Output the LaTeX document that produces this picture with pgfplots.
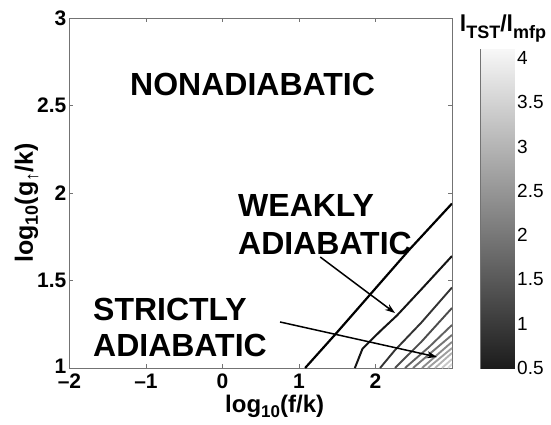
\documentclass[border=0pt]{standalone}
\usepackage{fontspec}
\setmainfont{Liberation Sans}
\usepackage{pgfplots}
\pgfplotsset{compat=1.18}
\usetikzlibrary{arrows.meta}
\newcommand{\tfont}{\fontsize{32}{32}\selectfont\bfseries}
\begin{document}
\begin{tikzpicture}[x=1pt,y=1pt]
\useasboundingbox (-69.5,-56) rectangle (481.5,368);
\begin{axis}[at={(0,0)}, anchor=south west, scale only axis,
  width=382.5pt, height=350pt,
  xmin=-2, xmax=3, ymin=1, ymax=3,
  xtick={-2,-1,0,1,2}, xticklabels={\textendash2,\textendash1,0,1,2},
  ytick={1,1.5,2,2.5,3}, yticklabels={\raisebox{4pt}{1},1.5,2,2.5,3},
  tick align=inside, major tick length=4pt,
  tick style={black!55, line width=0.6pt},
  axis line style={black!55, line width=0.8pt},
  tick label style={font=\fontsize{21}{21}\selectfont\bfseries, inner sep=0pt},
  xticklabel style={yshift=-6pt},
  yticklabel style={xshift=-3pt},
  clip=true,
]
\addplot[black, line width=2.2pt] coordinates {(1.08,1) (1.49,1.20) (1.75,1.33) (1.93,1.42) (2.45,1.68) (3.0,1.94)};
\addplot[black!92, line width=2pt] coordinates {(1.73,1) (1.83,1.11) (2.06,1.21) (2.28,1.30) (2.6,1.45) (3.0,1.64)};
\addplot[black!80, line width=1.9pt] coordinates {(2.06,1) (2.25,1.1) (2.6,1.26) (3.0,1.46)};
\addplot[black!70, line width=1.9pt] coordinates {(2.255,1) (2.6,1.15) (3.0,1.343)};
\addplot[black!62, line width=1.9pt] coordinates {(2.386,1) (2.7,1.12) (3.0,1.246)};
\addplot[black!54, line width=1.9pt] coordinates {(2.49,1) (3.0,1.189)};
\addplot[black!46, line width=1.9pt] coordinates {(2.608,1) (3.0,1.149)};
\addplot[black!38, line width=1.9pt] coordinates {(2.686,1) (3.0,1.114)};
\addplot[black!30, line width=1.9pt] coordinates {(2.778,1) (3.0,1.086)};
\addplot[black!22, line width=1.9pt] coordinates {(2.869,1) (3.0,1.051)};
\addplot[black!15, line width=1.9pt] coordinates {(2.948,1) (3.0,1.023)};
% arrows
\addplot[black, line width=1.5pt, -{Stealth[length=10pt,width=7pt]}] coordinates {(1.278,1.634) (2.255,1.314)};
\addplot[black, line width=1.5pt, -{Stealth[length=10pt,width=7pt]}] coordinates {(0.752,1.263) (2.804,1.063)};
% labels
\node[anchor=base west, inner sep=0pt, font=\tfont] at (axis cs:-1.209,2.56) {NONADIABATIC};
\node[anchor=base west, inner sep=0pt, font=\tfont] at (axis cs:0.2026,1.863) {WEAKLY};
\node[anchor=base west, inner sep=0pt, font=\tfont] at (axis cs:0.2026,1.646) {ADIABATIC};
\node[anchor=base west, inner sep=0pt, font=\tfont] at (axis cs:-1.693,1.274) {STRICTLY};
\node[anchor=base west, inner sep=0pt, font=\tfont] at (axis cs:-1.693,1.063) {ADIABATIC};
\end{axis}
% colorbar
\begin{axis}[at={(411.2pt,0pt)}, anchor=south west, scale only axis,
  width=33.3pt, height=318.7pt,
  xmin=0, xmax=1, ymin=0.5, ymax=4.1,
  colormap={bw}{gray(0cm)=(0.11); gray(1cm)=(0.97)},
  point meta min=0.5, point meta max=4.1,
  xtick=\empty,
  ytick={0.5,1,1.5,2,2.5,3,3.5,4},
  yticklabels={0.5,1,1.5,2,2.5,3,3.5,4},
  yticklabel pos=right,
  tick align=inside, major tick length=3pt,
  tick style={black!55, line width=0.6pt},
  axis line style={black!55, line width=0.8pt},
  yticklabel style={font=\fontsize{19}{19}\selectfont, inner sep=0pt, anchor=west, xshift=3pt},
]
\addplot[surf, shader=interp, point meta=y] coordinates {
(0,0.5) (1,0.5)

(0,4.1) (1,4.1)
};
\end{axis}
% colorbar title
\node[anchor=base, inner sep=0pt, font=\bfseries] at (433.5,336)
  {\fontsize{23}{23}\selectfont l\raisebox{-6pt}{\fontsize{18}{18}\selectfont TST}/l\raisebox{-6pt}{\fontsize{18}{18}\selectfont mfp}};
% axis labels
\node[anchor=base west, inner sep=0pt, font=\fontsize{24}{24}\selectfont\bfseries] at (155.5,-44)
  {log\raisebox{-5pt}{\fontsize{17}{17}\selectfont 10}(f/k)};
\node[anchor=base, rotate=90, inner sep=0pt, font=\fontsize{25}{25}\selectfont\bfseries] at (-36.5,165)
  {log\raisebox{-5pt}{\fontsize{18}{18}\selectfont 10}(g\raisebox{-5pt}{\fontsize{18}{18}\selectfont ↑}/k)};
\end{tikzpicture}
\end{document}
